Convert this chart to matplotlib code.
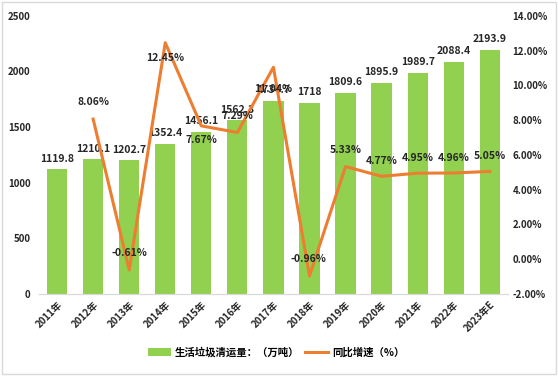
import matplotlib
matplotlib.use("Agg")
import matplotlib.pyplot as plt
from matplotlib.patches import Rectangle

plt.rcParams['font.family'] = ['Noto Sans CJK SC', 'DejaVu Sans']

years = ["2011年", "2012年", "2013年", "2014年", "2015年", "2016年", "2017年",
         "2018年", "2019年", "2020年", "2021年", "2022年", "2023年E"]
volume = [1119.8, 1210.1, 1202.7, 1352.4, 1456.1, 1562.3, 1734.7,
          1718, 1809.6, 1895.9, 1989.7, 2088.4, 2193.9]
growth = [None, 8.06, -0.61, 12.45, 7.67, 7.29, 11.04,
          -0.96, 5.33, 4.77, 4.95, 4.96, 5.05]
left_ticks = [0, 500, 1000, 1500, 2000, 2500]
right_ticks = [-2, 0, 2, 4, 6, 8, 10, 12, 14]

BAR_COLOR = "#92D050"
LINE_COLOR = "#ED7D31"
TEXT_COLOR = "#262626"

# per-point offsets (points) for the growth labels, roughly as Excel placed them
growth_offsets = {1: (0, 12), 2: (0, 12), 3: (0, -11), 4: (0, -10), 5: (0, 12),
                  6: (0, -16), 7: (-1, 12), 8: (0, 12), 9: (0, 11), 10: (0, 11),
                  11: (0, 11), 12: (0, 11)}

fig = plt.figure(figsize=(5.58, 3.76), dpi=100)
fig.patches.append(Rectangle((0.004, 0.004), 0.992, 0.99, transform=fig.transFigure,
                             fill=False, edgecolor="#D9D9D9", linewidth=1))
ax = fig.add_axes([0.07, 0.218, 0.84, 0.74])
ax2 = ax.twinx()

x = list(range(len(years)))
bars = ax.bar(x, volume, width=0.56, color=BAR_COLOR, zorder=2)
ax.set_xlim(-0.5, len(years) - 0.5)
ax.set_ylim(0, 2500)
ax.set_yticks(left_ticks)
ax.set_yticklabels([str(t) for t in left_ticks])
ax.set_xticks(x)
ax.set_xticklabels(years, rotation=45, ha="right", rotation_mode="anchor")

for xi, v in zip(x, volume):
    ax.annotate(f"{v:g}", (xi, v), xytext=(0, 4), textcoords="offset points",
                ha="center", va="bottom", fontsize=7.5, fontweight="bold", color=TEXT_COLOR)

gx = [xi for xi, g in zip(x, growth) if g is not None]
gy = [g for g in growth if g is not None]
line, = ax2.plot(gx, gy, color=LINE_COLOR, linewidth=2.2, zorder=3)
ax2.set_ylim(-2, 14)
ax2.set_yticks(right_ticks)
ax2.set_yticklabels([f"{t:.2f}%" for t in right_ticks])

for xi, g in zip(gx, gy):
    dx, dy = growth_offsets[xi]
    ax2.annotate(f"{g:.2f}%", (xi, g), xytext=(dx, dy), textcoords="offset points",
                 ha="center", va="center", fontsize=7.5, fontweight="bold", color=TEXT_COLOR)

for a in (ax, ax2):
    for side in ("top", "left", "right"):
        a.spines[side].set_visible(False)
    a.spines["bottom"].set_color("#D9D9D9")
    a.tick_params(length=0, labelsize=7, labelcolor=TEXT_COLOR)
    for lab in a.get_yticklabels() + a.get_xticklabels():
        lab.set_fontweight("bold")
ax.tick_params(axis="y", pad=6)
ax.tick_params(axis="x", pad=4)

fig.legend([bars, line], ["生活垃圾清运量：（万吨）", "同比增速（%）"],
           loc="center", bbox_to_anchor=(0.495, 0.063), ncol=2, frameon=False,
           prop={"size": 7.5, "weight": "bold"}, handlelength=2.2, columnspacing=0.5,
           handletextpad=0.4)

fig.savefig("out.png", dpi=100)
